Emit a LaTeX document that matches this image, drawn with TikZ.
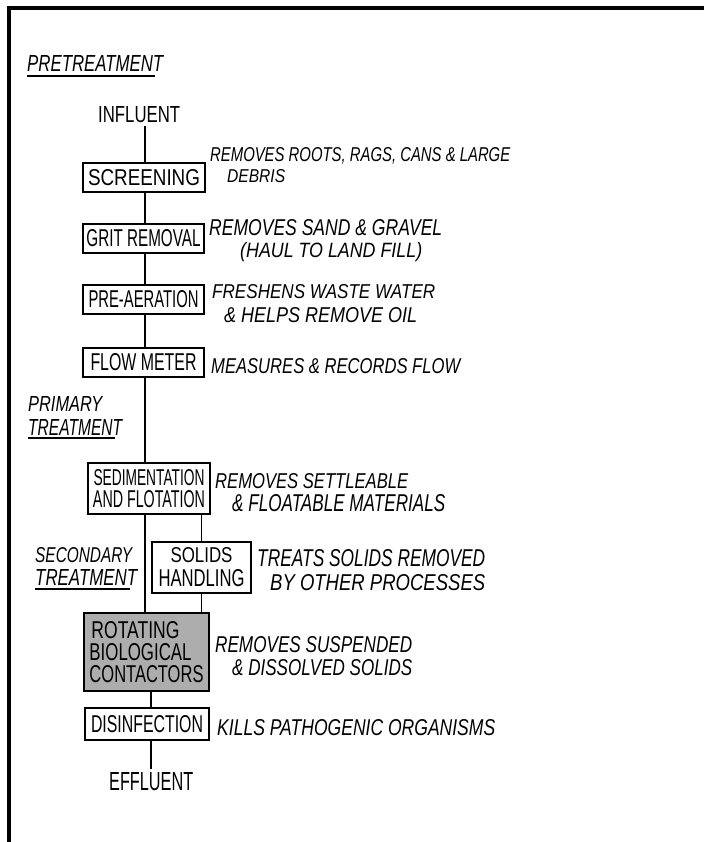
\documentclass[tikz,border=0pt]{standalone}
\usepackage{fontspec}
\setmainfont{Liberation Sans}
\usepackage{graphicx}
\newcommand\rz[3]{\resizebox{#1pt}{#2pt}{#3}}
\begin{document}
\begin{tikzpicture}[x=1pt,y=-1pt,
  box/.style={draw, line width=1.8pt, inner sep=0pt, align=center},
  txt/.style={anchor=base west, inner sep=0pt},
  desc/.style={txt, font=\itshape},
  conn/.style={line width=1.6pt},
  uline/.style={line width=1.4pt},
  frame/.style={line width=3.5pt}]
\useasboundingbox (0,0) rectangle (704,842);
% frame
\draw[frame] (704,8) -- (9,8) -- (9,842);
% columns for connectors
\coordinate (mx) at (145,0);
\coordinate (mx2) at (151,0);
% section labels
\node[desc] (pre) at (27,72) {\rz{136}{16}{PRETREATMENT}};
\draw[uline] (27,76) -- (155,76);
\node[desc] (prim1) at (28,411) {\rz{74}{15}{PRIMARY}};
\node[desc] (prim2) at (28,435) {\rz{94}{16}{TREATMENT}};
\draw[uline] (28,438) -- (115,438);
\node[desc] (sec1) at (35,562) {\rz{97}{15}{SECONDARY}};
\node[desc] (sec2) at (35,585) {\rz{102}{16}{TREATMENT}};
\draw[uline] (35,589) -- (130,589);
% terminals
\node[txt] (infl) at (98,123) {\rz{82}{16}{INFLUENT}};
\node[txt] (effl) at (109,790) {\rz{84}{18}{EFFLUENT}};
% process boxes
\node[box, minimum width=122pt, minimum height=29pt] (scr) at (144,177.5) {\rz{112}{16}{SCREENING}};
\node[box, minimum width=121pt, minimum height=29pt] (grit) at (143.5,238.5) {\rz{114}{17}{GRIT REMOVAL}};
\node[box, minimum width=121pt, minimum height=29pt] (aer) at (143.5,299.5) {\rz{110}{17}{PRE-AERATION}};
\node[box, minimum width=121pt, minimum height=29pt] (flow) at (143.5,362.5) {\rz{106}{17}{FLOW METER}};
\node[box, minimum width=122pt, minimum height=51pt, font=\fontsize{10}{22}\selectfont] (sed) at (149,488.5)
  {\rz{111}{16}{SEDIMENTATION}\\\rz{112}{17}{AND FLOTATION}};
\node[box, minimum width=99pt, minimum height=51pt, font=\fontsize{10}{24}\selectfont] (sol) at (201.5,567.5)
  {\rz{62}{15}{SOLIDS}\\\rz{86}{17}{HANDLING}};
\node[box, fill=black!32, minimum width=125pt, minimum height=78pt, align=left, font=\fontsize{10}{22}\selectfont] (rbc) at (146.5,652)
  {\hspace{2pt}\rz{88}{17}{ROTATING}\\\rz{102}{17}{BIOLOGICAL}\\\rz{114}{17}{CONTACTORS}};
\node[box, minimum width=124pt, minimum height=32pt] (dis) at (147,724) {\rz{112}{17}{DISINFECTION}};
% descriptions
\node[desc] (d1a) at (210,162) {\rz{300}{14}{REMOVES ROOTS, RAGS, CANS \& LARGE}};
\node[desc] (d1b) at (227,183) {\rz{58}{13}{DEBRIS}};
\node[desc] (d2a) at (209,235) {\rz{233}{16}{REMOVES SAND \& GRAVEL}};
\node[desc] (d2b) at (240,257) {\rz{182}{15}{(HAUL TO LAND FILL)}};
\node[desc] (d3a) at (212,298) {\rz{223}{14}{FRESHENS WASTE WATER}};
\node[desc] (d3b) at (224,322) {\rz{193}{15}{\& HELPS REMOVE OIL}};
\node[desc] (d4) at (211,373) {\rz{249}{15}{MEASURES \& RECORDS FLOW}};
\node[desc] (d5a) at (215,488) {\rz{193}{15}{REMOVES SETTLEABLE}};
\node[desc] (d5b) at (232,511) {\rz{213}{17}{\& FLOATABLE MATERIALS}};
\node[desc] (d6a) at (257,566) {\rz{228}{17}{TREATS SOLIDS REMOVED}};
\node[desc] (d6b) at (270,590) {\rz{215}{16}{BY OTHER PROCESSES}};
\node[desc] (d7a) at (215,652) {\rz{197}{16}{REMOVES SUSPENDED}};
\node[desc] (d7b) at (232,675) {\rz{180}{16}{\& DISSOLVED SOLIDS}};
\node[desc] (d8) at (217,735) {\rz{278}{16}{KILLS PATHOGENIC ORGANISMS}};
% connectors
\draw[conn, shorten <=3pt] (infl.south -| mx) -- (scr.north -| mx);
\draw[conn] (scr.south -| mx) -- (grit.north -| mx);
\draw[conn] (grit.south -| mx) -- (aer.north -| mx);
\draw[conn] (aer.south -| mx) -- (flow.north -| mx);
\draw[conn] (flow.south -| mx) -- (sed.north -| mx);
\draw[conn] (sed.south -| mx) -- (rbc.north -| mx);
\draw[conn] (sed.south -| sol.north) -- (sol.north);
\draw[conn] (sol.south) -- (rbc.north -| sol.south);
\draw[conn] (rbc.south -| mx2) -- (dis.north -| mx2);
\draw[conn, shorten >=3pt] (dis.south -| effl.north) -- (effl.north);
\end{tikzpicture}
\end{document}
